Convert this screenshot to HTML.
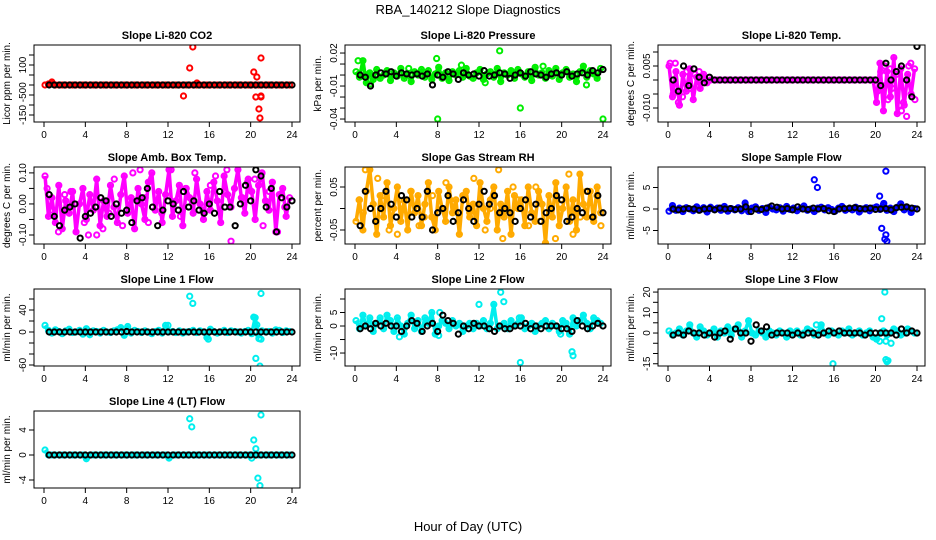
<!DOCTYPE html>
<html><head><meta charset="utf-8">
<style>
html,body{margin:0;padding:0;background:#fff;}
svg{display:block;font-family:"Liberation Sans",Arial,sans-serif;}
</style></head>
<body>
<svg id="chart" width="936" height="540" viewBox="0 0 936 540">
<rect width="936" height="540" fill="#fff"/>
<text x="468" y="14" text-anchor="middle" font-size="13">RBA_140212  Slope Diagnostics</text>
<text x="468" y="531" text-anchor="middle" font-size="13">Hour of Day (UTC)</text>
</svg>
<script>
// ---- data (colored series on a 1/3-hour grid, black series on a 1/2-hour grid) ----
const xTicks = [0,4,8,12,16,20,24];
const xTickLabels = ["0","4","8","12","16","20","24"];

const co2Main = [0,5,15,0,0,0,0,0,0,0,0,0,0,0,0,0,0,0,0,0,0,0,0,0,0,0,0,0,0,0,0,0,0,0,0,0,0,0,0,0,0,0,0,0,0,0,0,0,0,0,0,0,0,0,0,0,0,0,0,0,0,0,0,0,0,0,0,0,0,0,0,0];
const co2Black = [0,0,0,0,0,0,0,0,0,0,0,0,0,0,0,0,0,0,0,0,0,0,0,0,0,0,0,0,0,0,0,0,0,0,0,0,0,0,0,0,0,0,0,0,0,0,0,0];
const co2OutHours = [13.5,14.1,14.4,14.8,20.3,20.5,20.6,20.8,20.9,21.0,21.0,21.0];
const co2OutVals = [-55,85,190,10,65,-60,40,-120,-165,-60,135,-55];

const presMain = [3,-2,13,-7,2,-4,5,-3,0,4,-5,2,-1,6,-3,1,-6,3,0,5,-2,4,-4,1,7,-3,2,-5,3,0,4,-2,6,-1,-3,2,5,-4,1,3,-2,6,-6,2,0,4,-3,5,1,-2,3,-5,7,0,2,-3,4,-1,6,-4,2,5,-2,1,-6,3,8,-2,4,1,-3,6];
const presBlack = [0,-2,-10,0,2,1,3,-1,2,1,0,1,-1,1,-9,0,-2,3,1,-4,2,0,1,-1,4,-1,0,2,1,-3,0,2,-1,3,1,0,-2,1,2,0,3,-1,1,2,0,4,2,5];
const presOutHours = [8,7.9,14,16,24,0.3,1.5,5.2,10.3,12.6,18.2,22.4];
const presOutVals = [-40,15,22,-30,-40,13,-8,6,9,-7,8,-9];

const liTempMain = [5,-6,3,-9,2,-4,4,-7,1,-3,2,-1,0,0,0,0,0,0,0,0,0,0,0,0,0,0,0,0,0,0,0,0,0,0,0,0,0,0,0,0,0,0,0,0,0,0,0,0,0,0,0,0,0,0,0,0,0,0,0,0,-8,6,-11,3,-6,8,-12,4,-9,2,-5,4];
const liTempBlack = [0,-4,5,-2,4,1,-1,1,0,0,0,0,0,0,0,0,0,0,0,0,0,0,0,0,0,0,0,0,0,0,0,0,0,0,0,0,0,0,0,0,-2,6,0,3,5,0,-6,12];
const liTempOutHours = [0.2,0.5,0.7,1,1.4,1.8,2.2,2.6,3,3.3,20.2,20.5,20.9,21.2,21.6,22,22.3,22.7,23,23.4,23.8,20.7,21.4,22.5,23.2];
const liTempOutVals = [6,-5,6,-8,-6,3,-3,2,3,1,-4,3,5,-7,-3,2,-9,-8,-13,6,-7,-2,4,-11,5];

const ambMain = [9,-4,2,-6,6,-8,1,-3,4,-9,0,5,-5,3,-2,8,-7,1,-4,6,-1,-6,3,9,-3,2,-8,5,0,-5,7,10,-2,4,-6,3,11,-4,1,6,-7,5,2,-3,8,0,-5,4,-2,7,1,-6,9,3,-1,5,11,2,-3,8,4,-5,6,10,1,-2,7,-9,3,5,-4,2];
const ambBlack = [3,-4,-7,-2,-1,0,-11,-4,-3,-1,2,1,-4,0,-3,-2,-6,1,2,5,-1,-7,-2,1,0,-2,4,-1,1,-2,-3,0,-3,4,-1,-1,-7,0,6,1,11,9,-1,5,-9,2,-1,1];
const ambOutHours = [0.3,1.4,2.6,3.9,4.3,5.1,5.7,6.8,7.6,8.6,9.3,10.1,11.4,12.3,13.2,14.6,15.4,16.6,17.7,18.1,19.2,20.4,21.2,22.6,23.3,0.8,2.0,6.3,9.8,13.7,16.1,19.7,21.8];
const ambOutVals = [5,-9,4,-6,-10,-10,-8,8,-7,10,11,-6,-3,11,-4,10,-2,9,11,-12,2,8,-7,-9,-1,-2,3,-3,2,5,6,7,4];

const rhMain = [-3,2,-5,4,9,1,-6,3,-2,6,-4,0,5,-3,2,-5,4,-1,3,-4,1,6,-2,-5,4,0,-3,5,-1,2,-6,3,4,-2,1,-4,6,0,-3,2,5,-5,1,-2,4,-6,3,0,2,-4,5,-1,-3,4,1,-8,3,-2,6,-4,0,5,-3,2,-5,8,1,-2,4,-3,5,-1];
const rhBlack = [-4,4,0,-3,0,4,1,-2,3,2,-2,0,-2,4,-5,-1,0,3,-3,-1,2,0,-3,1,4,1,3,-1,0,-1,-3,0,2,-2,1,-3,-1,0,3,2,-3,-2,0,-1,4,-2,3,-1];
const rhOutHours = [0.4,1,2.2,3.3,4.1,5.4,6.2,7.5,8.8,10,11.5,12.6,13.9,14.3,15.3,16.8,17.5,18.6,19.4,20.7,21.1,22.4,23.1,23.8,0.8,2.7,4.6,6.7,9.2,11.1,13.1,15.8,17.9,19.9,21.8,23.4];
const rhOutVals = [2,9,7,-5,-6,4,-4,3,6,-3,7,-5,9,-7,5,-4,5,-10,-7,8,-6,4,-2,-4,-1,3,1,-2,2,-1,0,2,-3,1,-2,3];

const sampMain = [-5,8,-3,2,-6,3,0,-4,5,-2,3,-7,4,-1,2,-3,6,-5,1,-2,3,-4,14,-6,2,5,-3,1,-8,4,0,-2,3,-5,6,-1,2,-4,1,7,-3,0,-6,2,4,-2,3,-1,-5,2,6,-3,1,-2,4,-7,0,3,-4,2,5,-1,10,-3,2,-6,4,12,-2,3,-8,1];
const sampBlack = [0,-2,0,1,0,-3,0,1,-2,2,0,1,-1,0,5,-6,0,-1,2,7,4,0,1,-2,5,0,-1,2,0,1,-4,-6,0,1,2,3,1,0,2,-1,0,1,-2,3,4,5,2,0];
const sampOutHours = [14.1,14.4,20.4,20.6,20.8,20.9,21.0,21.1,21.0];
const sampOutVals = [6.8,5,3,-4.5,1.3,-7,-6,-7.5,8.8];

const l1Main = [12,3,-2,4,1,-3,2,5,-1,0,3,-4,6,-5,2,1,-2,3,0,-1,2,4,8,-6,10,-2,3,1,-1,2,0,-3,1,3,-2,12,0,1,-1,2,-2,0,1,3,-1,2,0,-10,5,1,-2,0,3,-1,2,1,0,-2,1,3,-3,26,-5,2,0,1,-2,4,3,-1,2,1];
const l1Black = [0,0,0,0,0,0,0,0,0,0,0,0,0,0,0,1,0,0,0,0,0,0,0,0,0,0,0,0,0,0,0,0,0,0,0,0,0,0,0,0,0,0,0,0,0,0,0,0];
const l1OutHours = [14.1,14.4,21.0,20.3,20.6,20.8,21.0,20.5,20.9,15.9,12.0];
const l1OutVals = [65,52,70,27,13,-12,-13,-48,-62,-13,12];

const l2Main = [2,-1,4,0,3,-2,1,3,-1,4,2,-2,3,0,-3,1,4,-1,2,-2,3,1,5,-3,0,2,1,-1,2,0,1,-2,0,1,-1,1,0,2,-1,1,8,-1,0,1,-1,2,0,1,3,-1,0,1,-2,0,1,2,-1,1,0,-2,2,1,-3,3,0,2,4,1,-1,3,2,1];
const l2Black = [-1,0,-1,1,0,1,0,0,-2,0,2,1,-2,0,1,-2,4,2,1,-3,0,-1,1,0,0,-1,-2,0,-1,-1,0,0,1,-1,0,-1,0,0,0,-1,-1,-2,2,0,-1,0,1,0];
const l2OutHours = [14.1,14.4,12,15.9,16,21,21.1,19.9,8.2,8.1,4.3];
const l2OutVals = [12.5,9,8,3,-13.5,-9.5,-11,-3,5,-3.5,-4];

const l3Main = [1,-1,0,2,-1,1,4,0,-2,3,1,-1,0,2,-2,1,0,3,-1,2,4,-2,1,6,0,-1,1,0,-2,1,0,-1,1,0,-2,1,0,1,-1,0,2,1,-1,0,4,0,-1,1,0,-1,1,0,2,-1,0,1,-1,0,1,-2,-3,0,1,-1,0,2,1,-1,0,2,1,0];
const l3Black = [-1,0,-1,1,0,0,-1,0,-2,0,1,-3,2,0,0,-4,4,1,3,-1,0,0,0,-1,0,-1,0,0,-1,0,1,0,1,0,0,0,0,-1,0,0,0,0,0,-1,2,0,1,0];
const l3OutHours = [20.9,21,21.1,21.2,20.6,20.4,15.9,21.5,21,14.3];
const l3OutVals = [20,-13,-14,-13.5,7,-4,-15,-5,-4,4];

const l4Main = [0.8,0,0,0,0,0,0,0,0,0,0,0,-0.6,0,0,0,0,0,0,0,0,0,0,0,0,0,0,0,0,0,0,0,0,0,0,0,-0.5,0,0,0,0,0,0,0,0,0,0,0,0,0,0,0,0,0,0,0,0,0,0,0,0,0,0,0,0,0,0,0,0,0,0,0];
const l4Black = [0,0,0,0,0,0,0,0,0,0,0,0,0,0,0,0,0,0,0,0,0,0,0,0,0,0,0,0,0,0,0,0,0,0,0,0,0,0,0,0,0,0,0,0,0,0,0,0];
const l4OutHours = [14.1,14.3,20.3,20.5,20.7,20.9,21.0,20.1];
const l4OutVals = [5.8,4.5,2.4,1,-3.7,-4.9,6.4,-0.5];

// ---- layout ----
const cols = [[34,300],[345,611],[658,925]];
const rows = [[45,122],[167,244],[289,366],[411,488]];
const NS = "http://www.w3.org/2000/svg";
const svg = document.getElementById("chart");

function mk(tag, attrs, parent){
  const e = document.createElementNS(NS, tag);
  for (const k in attrs) e.setAttribute(k, attrs[k]);
  (parent||svg).appendChild(e);
  return e;
}

const panels = [
 {key:"co2", title:"Slope Li-820 CO2", ylab:"Licor ppm per min.", col:0,row:0, vt:200, vb:-185, sc:1, color:"#ff0000",
  main:co2Main, black:co2Black, oh:co2OutHours, ov:co2OutVals, ticks:[-150,-100,-50,0,50,100,150], labels:{"-150":"-150","-50":"-50","0":"0","100":"100"}},
 {key:"pressure", title:"Slope Li-820 Pressure", ylab:"kPa per min.", col:1,row:0, vt:0.0273, vb:-0.0427, sc:0.001, color:"#00ee00",
  main:presMain, black:presBlack, oh:presOutHours, ov:presOutVals, ticks:[-0.04,-0.03,-0.02,-0.01,0,0.01,0.02], labels:{"-0.04":"-0.04","-0.01":"-0.01","0.02":"0.02"}},
 {key:"li-temp", title:"Slope Li-820 Temp.", ylab:"degrees C per min.", col:2,row:0, vt:0.0125, vb:-0.015, sc:0.001, color:"#ff00ff",
  main:liTempMain, black:liTempBlack, oh:liTempOutHours, ov:liTempOutVals, ticks:[-0.01,-0.005,0,0.005,0.01], labels:{"-0.01":"-0.010","0.005":"0.005"}},
 {key:"amb-temp", title:"Slope Amb. Box Temp.", ylab:"degrees C per min.", col:0,row:1, vt:0.119, vb:-0.129, sc:0.01, color:"#ff00ff",
  main:ambMain, black:ambBlack, oh:ambOutHours, ov:ambOutVals, ticks:[-0.1,-0.05,0,0.05,0.1], labels:{"-0.1":"-0.10","0":"0.00","0.1":"0.10"}},
 {key:"rh", title:"Slope Gas Stream RH", ylab:"percent per min.", col:1,row:1, vt:0.0965, vb:-0.0826, sc:0.01, color:"#ffaa00",
  main:rhMain, black:rhBlack, oh:rhOutHours, ov:rhOutVals, ticks:[-0.05,0,0.05], labels:{"-0.05":"-0.05","0.05":"0.05"}},
 {key:"sample-flow", title:"Slope Sample Flow", ylab:"ml/min per min.", col:2,row:1, vt:9.77, vb:-8.14, sc:0.1, color:"#0000ff",
  main:sampMain, black:sampBlack, oh:sampOutHours, ov:sampOutVals.map(v=>v*10), ticks:[-5,0,5], labels:{"-5":"-5","0":"0","5":"5"}},
 {key:"line1-flow", title:"Slope Line 1 Flow", ylab:"ml/min per min.", col:0,row:2, vt:78.2, vb:-61.8, sc:1, color:"#00eeee",
  main:l1Main, black:l1Black, oh:l1OutHours, ov:l1OutVals, ticks:[-60,-40,-20,0,20,40,60], labels:{"-60":"-60","0":"0","40":"40"}},
 {key:"line2-flow", title:"Slope Line 2 Flow", ylab:"ml/min per min.", col:1,row:2, vt:13.7, vb:-14.8, sc:1, color:"#00eeee",
  main:l2Main, black:l2Black, oh:l2OutHours, ov:l2OutVals, ticks:[-10,-5,0,5,10], labels:{"-10":"-10","0":"0","5":"5"}},
 {key:"line3-flow", title:"Slope Line 3 Flow", ylab:"ml/min per min.", col:2,row:2, vt:21.5, vb:-16.1, sc:1, color:"#00eeee",
  main:l3Main, black:l3Black, oh:l3OutHours, ov:l3OutVals, ticks:[-15,-10,-5,0,5,10,15,20], labels:{"-15":"-15","0":"0","10":"10","20":"20"}},
 {key:"line4-flow", title:"Slope Line 4 (LT) Flow", ylab:"ml/min per min.", col:0,row:3, vt:7.04, vb:-5.28, sc:1, color:"#00eeee",
  main:l4Main, black:l4Black, oh:l4OutHours, ov:l4OutVals, ticks:[-4,0,4], labels:{"-4":"-4","0":"0","4":"4"}}
];

panels.forEach(p => {
  const [L,R] = cols[p.col], [T,B] = rows[p.row];
  const g = mk("g", {});
  
  
  const xs = h => (L+10) + h/24*((R-8)-(L+10));
  const ys = v => T + (p.vt - v)/(p.vt - p.vb)*(B-T);
  const clipId = "clip-" + p.key;
  const cp = mk("clipPath", {id:clipId}, g);
  mk("rect", {x:L, y:T, width:R-L, height:B-T}, cp);

  const t = mk("text", {x:(L+R)/2, y:T-6, "text-anchor":"middle", "font-size":"11", "font-weight":"bold"}, g);
  t.textContent = p.title;
  
  

  const yl = mk("text", {x:0, y:0, "text-anchor":"middle", "font-size":"10", transform:`translate(${L-24},${(T+B)/2}) rotate(-90)`}, g);
  yl.textContent = p.ylab;
  
  

  xTicks.forEach((h,i) => {
    const x = xs(h);
    const tk = mk("line", {x1:x, x2:x, y1:B, y2:B+5, stroke:"#000", "stroke-width":"1"}, g);
    
    
    const tl = mk("text", {x:x, y:B+16, "text-anchor":"middle", "font-size":"10"}, g);
    tl.textContent = xTickLabels[i];
    
    
  });
  p.ticks.forEach(v => {
    const y = ys(v);
    const tk = mk("line", {x1:L-5, x2:L, y1:y, y2:y, stroke:"#000", "stroke-width":"1"}, g);
    
    
    const lab = p.labels[String(v)];
    if (lab !== undefined) {
      const tl = mk("text", {x:0, y:0, "text-anchor":"middle", "font-size":"10", transform:`translate(${L-8},${y}) rotate(-90)`}, g);
      tl.textContent = lab;
      
      
    }
  });

  const pts = mk("g", {"clip-path":`url(#${clipId})`, fill:"none", "stroke-width":"2"}, g);
  
  

  // dense band connecting the colored observations
  const band = mk("polyline", {points: p.main.map((v,i)=>`${xs(0.1+i/3)},${ys(v*p.sc)}`).join(" "),
    stroke:p.color, "stroke-width":"3.5", "stroke-linejoin":"round", fill:"none"}, pts);
  
  

  p.main.forEach((v,i) => {
    const h = 0.1 + i/3;
    const c = mk("circle", {cx:xs(h), cy:ys(v*p.sc), r:2.6, stroke:p.color}, pts);
    
    
  });
  p.oh.forEach((h,i) => {
    const c = mk("circle", {cx:xs(h), cy:ys(p.ov[i]*p.sc), r:2.6, stroke:p.color}, pts);
    
    
  });
  p.black.forEach((v,i) => {
    const h = 0.5 + i*0.5;
    const c = mk("circle", {cx:xs(h), cy:ys(v*p.sc), r:2.6, stroke:"#000"}, pts);
    
    
  });

  const box = mk("rect", {x:L, y:T, width:R-L, height:B-T, fill:"none", stroke:"#000", "stroke-width":"1"}, g);
  
  
});
</script>
</body></html>
